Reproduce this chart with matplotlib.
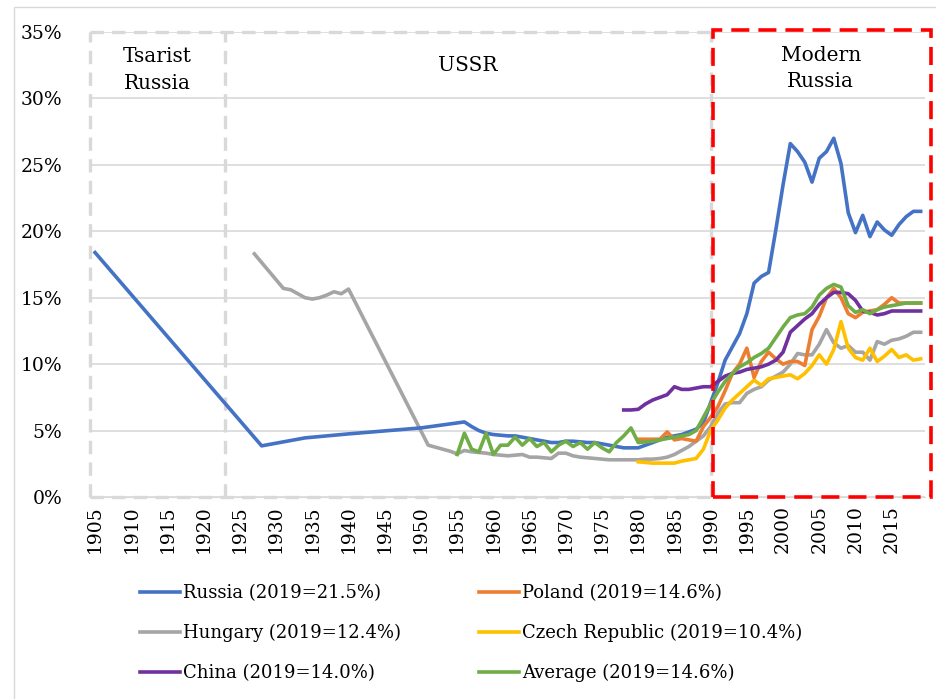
import numpy as np
import matplotlib.pyplot as plt
from matplotlib.patches import Rectangle

# Share of ... (% of total)
russia_years = [1905, 1928, 1934, 1940, 1950] + list(range(1956, 2020))
russia_vals = [18.4, 3.85, 4.45, 4.75, 5.2,
               5.65, 5.3, 5.0, 4.8, 4.7, 4.65, 4.6, 4.6, 4.5, 4.4,
               4.3, 4.2, 4.1, 4.1, 4.2, 4.2, 4.15, 4.1, 4.1, 4.0,
               3.9, 3.8, 3.7, 3.7, 3.7, 3.9, 4.1, 4.3, 4.5, 4.6,
               4.7, 4.9, 5.1, 5.6, 7.1, 8.6, 10.3, 11.3, 12.3, 13.8,
               16.1, 16.6, 16.9, 20.1, 23.5, 26.6, 26.0, 25.2, 23.7, 25.5,
               26.0, 27.0, 25.1, 21.4, 19.9, 21.2, 19.6, 20.7, 20.1, 19.7,
               20.5, 21.1, 21.5, 21.5]

hungary_years = [1927] + list(range(1931, 1941)) + list(range(1951, 2020))
hungary_vals = [18.3, 15.7, 15.6, 15.3, 15.0, 14.9, 15.0, 15.2, 15.45, 15.3, 15.65,
                3.9, 3.75, 3.6, 3.45, 3.25, 3.5, 3.4, 3.35, 3.3, 3.2,
                3.15, 3.1, 3.15, 3.2, 3.0, 3.0, 2.95, 2.9, 3.3, 3.3,
                3.1, 3.0, 2.95, 2.9, 2.85, 2.8, 2.8, 2.8, 2.8, 2.8,
                2.85, 2.85, 2.9, 3.0, 3.2, 3.5, 3.8, 4.2, 4.6, 5.3,
                6.3, 7.0, 7.1, 7.1, 7.8, 8.1, 8.3, 8.8, 9.1, 9.4,
                10.0, 10.8, 10.7, 10.7, 11.5, 12.6, 11.6, 11.2, 11.4, 10.9,
                10.9, 10.3, 11.7, 11.5, 11.8, 11.9, 12.1, 12.4, 12.4]

poland_years = list(range(1980, 2020))
poland_vals = [4.35, 4.35, 4.35, 4.35, 4.9, 4.3, 4.4, 4.3, 4.2, 5.3,
               6.0, 6.8, 8.0, 9.3, 10.0, 11.2, 9.0, 10.2, 10.9, 10.4,
               10.0, 10.2, 10.2, 9.9, 12.6, 13.6, 15.0, 15.7, 15.0, 13.8,
               13.5, 13.9, 14.0, 14.1, 14.5, 15.0, 14.6, 14.6, 14.6, 14.6]

czech_years = list(range(1980, 2020))
czech_vals = [2.65, 2.6, 2.55, 2.55, 2.55, 2.55, 2.7, 2.8, 2.9, 3.6,
              5.0, 5.8, 6.7, 7.3, 7.8, 8.3, 8.8, 8.4, 8.9, 9.0,
              9.1, 9.2, 8.9, 9.3, 9.9, 10.7, 10.0, 11.1, 13.2, 11.2,
              10.5, 10.3, 11.2, 10.2, 10.6, 11.1, 10.5, 10.7, 10.3, 10.4]

china_years = list(range(1978, 2020))
china_vals = [6.55, 6.55, 6.6, 7.0, 7.3, 7.5, 7.7, 8.3, 8.1, 8.1,
              8.2, 8.3, 8.3, 8.7, 9.1, 9.3, 9.4, 9.6, 9.7, 9.8,
              10.0, 10.3, 10.9, 12.4, 12.9, 13.4, 13.8, 14.5, 15.0, 15.4,
              15.4, 15.3, 14.8, 14.0, 13.9, 13.7, 13.8, 14.0, 14.0, 14.0,
              14.0, 14.0]

average_years = list(range(1955, 2020))
average_vals = [3.2, 4.8, 3.6, 3.4, 4.8, 3.2, 3.9, 3.9, 4.5, 3.9,
                4.4, 3.8, 4.1, 3.4, 3.9, 4.2, 3.8, 4.1, 3.6, 4.1,
                3.7, 3.4, 4.1, 4.6, 5.2, 4.1, 4.15, 4.2, 4.3, 4.4,
                4.5, 4.6, 4.7, 5.0, 6.0, 7.0, 7.9, 8.7, 9.3, 9.8,
                10.1, 10.5, 10.8, 11.2, 12.0, 12.8, 13.5, 13.7, 13.8, 14.3,
                15.2, 15.7, 16.0, 15.8, 14.4, 13.9, 14.1, 13.8, 14.1, 14.3,
                14.4, 14.5, 14.6, 14.6, 14.6]

labels = ['Russia (2019=21.5%)', 'Poland (2019=14.6%)', 'Hungary (2019=12.4%)',
          'Czech Republic (2019=10.4%)', 'China (2019=14.0%)', 'Average (2019=14.6%)']
colors = ['#4472C4', '#ED7D31', '#A5A5A5', '#FFC000', '#7030A0', '#70AD47']
era_names = ['Tsarist\nRussia', 'USSR', 'Modern\nRussia']
era_bounds = [1923, 1990]

plt.rcParams['font.family'] = ['DejaVu Serif']

fig = plt.figure(figsize=(9.37, 6.99), dpi=100)
ax = fig.add_axes([90 / 937, 1 - 497 / 699, 835 / 937, 465 / 699])

series = [(russia_years, russia_vals), (poland_years, poland_vals),
          (hungary_years, hungary_vals), (czech_years, czech_vals),
          (china_years, china_vals), (average_years, average_vals)]
draw_order = [2, 0, 3, 1, 4, 5]
handles = [None] * 6
for i in draw_order:
    yrs, vals = series[i]
    line, = ax.plot(yrs, np.array(vals) / 100, color=colors[i], lw=2.6,
                    label=labels[i], solid_joinstyle='round', zorder=3)
    handles[i] = line

x0, x1 = 1904.3, 2019.6
ax.set_xlim(x0, x1)
ax.set_ylim(0, 0.35)
ax.set_yticks(np.arange(0, 0.351, 0.05))
ax.set_yticklabels([f'{int(round(v * 100))}%' for v in np.arange(0, 0.351, 0.05)],
                   fontsize=13.5)
ax.set_xticks(range(1905, 2016, 5))
ax.set_xticklabels([str(y) for y in range(1905, 2016, 5)], rotation=90, fontsize=13.5)
ax.tick_params(length=0, pad=6)
ax.tick_params(axis='y', pad=20)
ax.grid(axis='y', color='#D9D9D9', lw=1.2)
for s in ['top', 'right', 'left']:
    ax.spines[s].set_visible(False)
ax.spines['bottom'].set_color('#D9D9D9')

# era boxes
gray = dict(color='#D9D9D9', lw=2.4, ls=(0, (4, 2.5)), zorder=2, clip_on=False)
ax.plot([x0, era_bounds[1]], [0.35, 0.35], **gray)
ax.plot([x0, era_bounds[1]], [0, 0], **gray)
ax.plot([x0, x0], [0, 0.35], **gray)
ax.plot([era_bounds[0], era_bounds[0]], [0, 0.35], **gray)
ax.plot([era_bounds[1], era_bounds[1]], [0, 0.35], **gray)
ax.add_patch(Rectangle((era_bounds[1] + 0.3, 0), 2020.4 - era_bounds[1] - 0.3, 0.3515,
                       fill=False, ec='red', lw=2.6, ls=(0, (5, 2.5)),
                       clip_on=False, zorder=4))

ax.text((x0 + era_bounds[0]) / 2, 0.3215, era_names[0], ha='center', va='center',
        fontsize=14.5, linespacing=1.55)
ax.text((era_bounds[0] + era_bounds[1]) / 2, 0.325, era_names[1], ha='center',
        va='center', fontsize=14.5)
ax.text((era_bounds[1] + 2020.4) / 2, 0.3225, era_names[2], ha='center', va='center',
        fontsize=14.5, linespacing=1.5)

# outer chart border
fig.add_artist(Rectangle((14 / 937, -0.05), 1.0, 1 - 7 / 699 + 0.05,
                         transform=fig.transFigure, fill=False, ec='#D9D9D9', lw=1))

order = [0, 2, 4, 1, 3, 5]
fig.legend([handles[i] for i in order], [labels[i] for i in order], ncol=2,
           loc='upper left', bbox_to_anchor=(124 / 937, 1 - 568 / 699),
           frameon=False, fontsize=13, handlelength=2.2, handletextpad=0.15,
           labelspacing=1.2, columnspacing=4.35)

fig.savefig('out.png', dpi=100)
